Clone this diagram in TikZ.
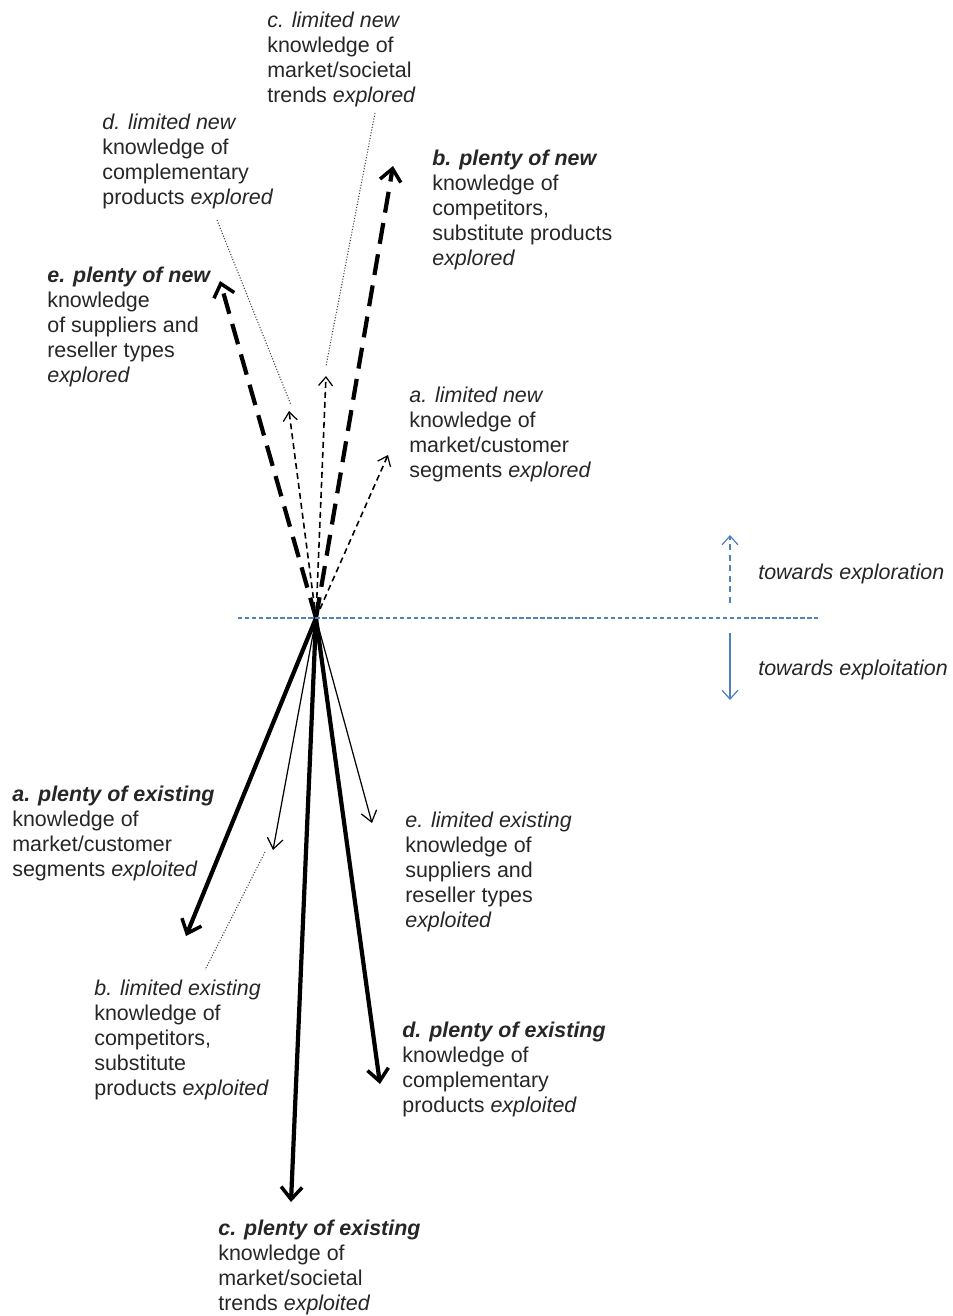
\documentclass[tikz,border=0pt]{standalone}
\usepackage{fontspec}
\setmainfont{Liberation Sans}
\usetikzlibrary{arrows.meta,positioning}
\definecolor{legblue}{RGB}{79,129,189}

\begin{document}
\begin{tikzpicture}[x=0.2mm,y=-0.2mm,
	lbl/.style={anchor=north west,align=left,inner sep=0pt,text=black!85,
		font=\fontsize{12.2}{14.2}\selectfont},
	bignew/.style={line width=2.4pt,dash pattern=on 12pt off 6pt,
		-{Straight Barb[length=7pt,width=12pt,line width=2pt]}},
	smallnew/.style={line width=0.9pt,dash pattern=on 3.4pt off 2.3pt,
		-{Straight Barb[length=5pt,width=8pt,line width=0.7pt]}},
	bigold/.style={line width=2.4pt,
		-{Straight Barb[length=7pt,width=12pt,line width=2pt]}},
	smallold/.style={line width=0.7pt,
		-{Straight Barb[length=6pt,width=9pt,line width=0.7pt]}},
	leader/.style={line width=0.6pt,densely dotted,black!75}]
	\useasboundingbox (0,0) rectangle (953,1316);
	
	\coordinate (o) at (316,618);
	% tips towards exploration
	\coordinate (n_a) at (388,455);
	\coordinate (n_b) at (393,166);
	\coordinate (n_c) at (326,376);
	\coordinate (n_d) at (289,411);
	\coordinate (n_e) at (220,281);
	% tips towards exploitation
	\coordinate (x_a) at (186,936);
	\coordinate (x_b) at (273,850);
	\coordinate (x_c) at (291,1202);
	\coordinate (x_d) at (380,1084);
	\coordinate (x_e) at (372,823);
	
	\path (o) edge[bignew] (n_e)
		edge[bignew] (n_b)
		edge[smallnew] (n_d)
		edge[smallnew] (n_c)
		edge[smallnew] (n_a)
		edge[bigold] (x_a)
		edge[bigold] (x_c)
		edge[bigold] (x_d)
		edge[smallold] (x_b)
		edge[smallold] (x_e);
	
	% labels
	\node[lbl] (l_nc) at (267,12) {\textit{c. limited new}\\knowledge of\\market/societal\\trends \textit{explored}};
	\node[lbl] (l_nd) at (102,114) {\textit{d. limited new}\\knowledge of\\complementary\\products \textit{explored}};
	\node[lbl] (l_nb) at (432,150) {\textbf{\textit{b. plenty of new}}\\knowledge of\\competitors,\\substitute products\\\textit{explored}};
	\node[lbl] (l_ne) at (47,267) {\textbf{\textit{e. plenty of new}}\\knowledge\\of suppliers and\\reseller types\\\textit{explored}};
	\node[lbl] (l_na) at (409,387) {\textit{a. limited new}\\knowledge of\\market/customer\\segments \textit{explored}};
	\node[lbl] (l_xa) at (12,786) {\textbf{\textit{a. plenty of existing}}\\knowledge of\\market/customer\\segments \textit{exploited}};
	\node[lbl] (l_xe) at (405,812) {\textit{e. limited existing}\\knowledge of\\suppliers and\\reseller types\\\textit{exploited}};
	\node[lbl] (l_xb) at (94,980) {\textit{b. limited existing}\\knowledge of\\competitors,\\substitute\\products \textit{exploited}};
	\node[lbl] (l_xd) at (402,1022) {\textbf{\textit{d. plenty of existing}}\\knowledge of\\complementary\\products \textit{exploited}};
	\node[lbl] (l_xc) at (218,1220) {\textbf{\textit{c. plenty of existing}}\\knowledge of\\market/societal\\trends \textit{exploited}};
	
	% dotted leaders
	\coordinate (ld_top) at (217,220);
	\coordinate (ld_end) at (291,405);
	\coordinate (lc_top) at (375,113);
	\coordinate (lc_end) at (326,366);
	\coordinate (lb_top) at (265,852);
	\coordinate (lb_end) at (205,970);
	\draw[leader] (ld_top) -- (ld_end);
	\draw[leader] (lc_top) -- (lc_end);
	\draw[leader] (lb_top) -- (lb_end);
	
	% legend
	\coordinate (h_l) at (238,618);
	\coordinate (h_r) at (818,618);
	\draw[legblue,line width=0.6pt,dash pattern=on 2.5pt off 1.5pt] (h_l) -- (h_r);
	\coordinate (up_s) at (730,603);
	\coordinate (up_e) at (730,535);
	\coordinate (dn_s) at (730,633);
	\coordinate (dn_e) at (730,700);
	\draw[legblue,line width=0.7pt,dash pattern=on 3.5pt off 2.5pt,
		-{Straight Barb[length=5pt,width=9pt,line width=0.7pt]}] (up_s) -- (up_e);
	\draw[legblue,line width=0.7pt,
		-{Straight Barb[length=5pt,width=9pt,line width=0.7pt]}] (dn_s) -- (dn_e);
	\node[lbl] (t_up) at (758,564) {\textit{towards exploration}};
	\node[lbl] (t_dn) at (758,660) {\textit{towards exploitation}};
\end{tikzpicture}
\end{document}
